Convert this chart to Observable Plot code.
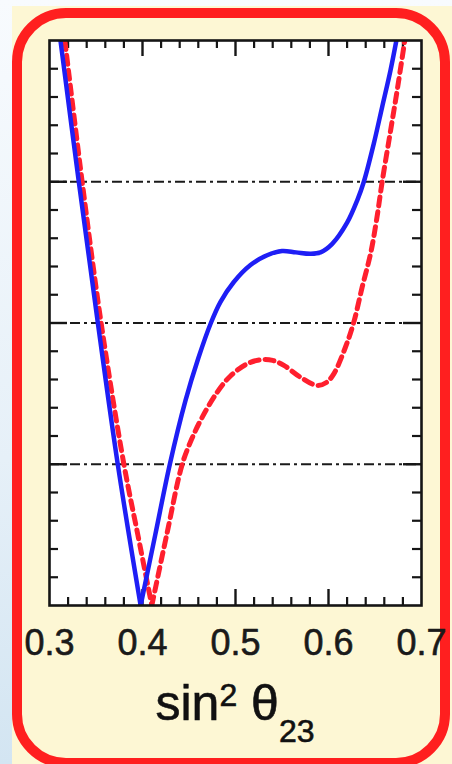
<!DOCTYPE html>
<html>
<head>
<meta charset="utf-8">
<script src="https://cdn.jsdelivr.net/npm/d3@7"></script>
<script src="https://cdn.jsdelivr.net/npm/@observablehq/plot@0.6"></script>
<style>
  html, body { margin: 0; padding: 0; }
  body {
    width: 452px; height: 764px; overflow: hidden; position: relative;
    background: linear-gradient(to bottom, #f8fbfe 0%, #e6f0f8 60%, #d3e5f2 100%);
    font-family: "Liberation Sans", Arial, Helvetica, sans-serif;
  }
  #cream { position: absolute; left: 12px; top: 6px; width: 440px; height: 758px; background: #fdf7d4; }
  #border {
    position: absolute; left: 12px; top: 8px; width: 438px; height: 760px;
    box-sizing: border-box; border: 10px solid #ff1f1f; border-radius: 54px;
  }
  #chart { position: absolute; left: 0; top: 0; }
</style>
</head>
<body>
<div id="cream"></div>
<div id="border"></div>
<div id="chart"></div>
<script>
// sin^2(theta23) vs Delta chi^2 — left branch (down to the minimum) and right branch (from the minimum)
const blueLeftS    = [0.3118, 0.3315, 0.352, 0.3734, 0.398];
const blueLeftChi  = [4.0,    3.0,    2.0,   1.0,    0.0];
const blueRightS   = [0.398, 0.4137, 0.4294, 0.4462, 0.4600, 0.4735, 0.4839, 0.4982, 0.5161, 0.534, 0.5500, 0.565, 0.5806, 0.5914, 0.6040, 0.620, 0.631, 0.638, 0.6487, 0.6577, 0.6667, 0.673];
const blueRightChi = [0.0,   0.5,    1.0,    1.45,   1.75,   2.0,    2.15,   2.29,   2.41,   2.48,  2.51,   2.50,  2.49,   2.50,   2.56,   2.71,  2.87,  3.0,   3.27,   3.53,   3.79,   4.0];

const redLeftS    = [0.3165, 0.3351, 0.3555, 0.380, 0.395, 0.410];
const redLeftChi  = [4.0,    3.0,    2.0,    1.0,   0.5,   0.0];
const redRightS   = [0.410, 0.426, 0.4427, 0.4530, 0.4640, 0.4803, 0.4946, 0.5126, 0.528, 0.540, 0.552, 0.5699, 0.5878, 0.598, 0.6057, 0.6183, 0.6272, 0.6362, 0.6452, 0.6516, 0.6577, 0.6667, 0.6739, 0.682];
const redRightChi = [0.0,   0.5,   1.0,    1.18,   1.33,   1.51,   1.625,  1.711,  1.74,  1.735, 1.70,  1.616,  1.558,  1.58,  1.64,   1.83,   2.006,  2.254,  2.49,   2.726,  3.0,    3.36,   3.65,   4.0];

const xTickLabels = [0.3, 0.4, 0.5, 0.6, 0.7];
const xMajor = [0.4, 0.5, 0.6];
const xMinor = [0.32, 0.34, 0.36, 0.38, 0.42, 0.44, 0.46, 0.48, 0.52, 0.54, 0.56, 0.58, 0.62, 0.64, 0.66, 0.68];
const yMajor = [1, 2, 3];
const yMinor = [0.2, 0.4, 0.6, 0.8, 1.2, 1.4, 1.6, 1.8, 2.2, 2.4, 2.6, 2.8, 3.2, 3.4, 3.6, 3.8];
const refLines = [1, 2, 3];

const toRows = (S, C, branch) => S.map((s, i) => ({s, chi: C[i], branch}));
const blue = toRows(blueLeftS, blueLeftChi, "L").concat(toRows(blueRightS, blueRightChi, "R"));
const red = toRows(redLeftS, redLeftChi, "L").concat(toRows(redRightS, redRightChi, "R"));

const ML = 49, MR = 31, MT = 40, MB = 159, W = 452, H = 764;
const FW = W - ML - MR, FH = H - MT - MB;
const tk = "#151515";
const FONT = "'Liberation Sans', Arial, Helvetica, sans-serif";

const chart = Plot.plot({
  width: W, height: H,
  marginLeft: ML, marginRight: MR, marginTop: MT, marginBottom: MB,
  style: {background: "transparent", overflow: "visible", fontFamily: FONT},
  x: {domain: [0.3, 0.7], axis: null},
  y: {domain: [0, 4], axis: null},
  marks: [
    Plot.frame({fill: "white", stroke: "none"}),
    Plot.ruleY(refLines, {y: d => d, stroke: "#1a1a1a", strokeWidth: 2.2, strokeDasharray: "10,4,3,4"}),
    // x ticks top/bottom
    Plot.ruleX(xMajor, {x: d => d, insetBottom: FH - 16, stroke: tk, strokeWidth: 2.4}),
    Plot.ruleX(xMinor, {x: d => d, insetBottom: FH - 8, stroke: tk, strokeWidth: 2.2}),
    Plot.ruleX(xMajor, {x: d => d, insetTop: FH - 16, stroke: tk, strokeWidth: 2.4}),
    Plot.ruleX(xMinor, {x: d => d, insetTop: FH - 8, stroke: tk, strokeWidth: 2.2}),
    // y ticks left/right
    Plot.ruleY(yMajor, {y: d => d, insetRight: FW - 18, stroke: tk, strokeWidth: 2.4}),
    Plot.ruleY(yMinor, {y: d => d, insetRight: FW - 9, stroke: tk, strokeWidth: 2.2}),
    Plot.ruleY(yMajor, {y: d => d, insetLeft: FW - 18, stroke: tk, strokeWidth: 2.4}),
    Plot.ruleY(yMinor, {y: d => d, insetLeft: FW - 9, stroke: tk, strokeWidth: 2.2}),
    // curves
    Plot.line(red, {x: "s", y: "chi", z: "branch", stroke: "#ff1f2e", strokeWidth: 5, strokeDasharray: "9,6", curve: "catmull-rom", clip: true}),
    Plot.line(blue, {x: "s", y: "chi", z: "branch", stroke: "#1e1ef5", strokeWidth: 4.5, curve: "catmull-rom", clip: true}),
    Plot.frame({stroke: tk, strokeWidth: 2.6}),
    // tick labels
    Plot.text(xTickLabels, {x: d => d, frameAnchor: "bottom", dy: 38, lineAnchor: "middle", text: d => d.toFixed(1), fontSize: 36, fill: "#1a1a1a", stroke: "#1a1a1a", strokeWidth: 0.6})
  ]
});

// axis title with superscript / subscript
const svg = d3.select(chart);
const t = svg.append("text")
  .attr("x", ML + FW / 2)
  .attr("y", 720)
  .attr("text-anchor", "middle")
  .attr("fill", "#111")
  .attr("stroke", "#111")
  .attr("stroke-width", 0.6)
  .style("font-family", FONT)
  .style("font-size", "50px");
t.append("tspan").text("sin");
t.append("tspan").attr("dy", -14).style("font-size", "32px").text("2");
t.append("tspan").attr("dy", 14).text(" θ");
t.append("tspan").attr("dy", 22).style("font-size", "32px").text("23");

document.getElementById("chart").appendChild(chart);
</script>
</body>
</html>
